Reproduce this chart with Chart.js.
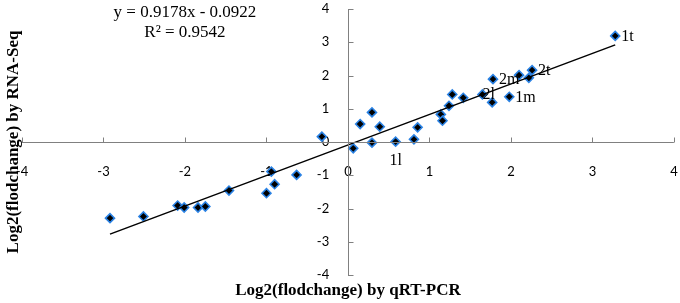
<!DOCTYPE html>
<html>
<head>
<meta charset="utf-8">
<script src="https://cdn.jsdelivr.net/npm/chart.js@4/dist/chart.umd.min.js"></script>
<style>
  html, body { margin: 0; padding: 0; background: #fff; }
  #wrap { width: 680px; height: 303px; }
</style>
</head>
<body>
<div id="wrap"><canvas id="scatterChart" width="680" height="303"></canvas></div>
<script>
// log2 fold change, qRT-PCR (x) vs RNA-Seq (y)
const qpcrValues = [-2.92, -2.51, -2.09, -2.01, -1.84, -1.75, -1.46, -1.00, -0.94, -0.90, -0.63,
    -0.32, 0.065, 0.15, 0.295, 0.295, 0.39, 0.585, 0.81, 0.855, 1.14, 1.16, 1.24, 1.28,
    1.415, 1.65, 1.77, 1.78, 1.98, 2.10, 2.22, 2.26, 3.28];
const rnaseqValues = [-2.29, -2.24, -1.91, -1.97, -1.97, -1.94, -1.46, -1.54, -0.89, -1.27, -0.99,
    0.16, -0.19, 0.54, 0.89, -0.02, 0.46, 0.01, 0.08, 0.44, 0.83, 0.64, 1.09, 1.43,
    1.33, 1.43, 1.19, 1.89, 1.36, 2.01, 1.93, 2.16, 3.19];
const pointLabels = ['', '', '', '', '', '', '', '', '', '', '',
    '', '', '', '', '', '', '1l', '', '', '', '', '', '',
    '', '2l', '', '2m', '1m', '', '', '2t', '1t'];

// trendline ends (y = 0.9178x - 0.0922)
const trendX = [-2.92, 3.28];
const trendY = [-2.77, 2.92];

const equationLines = ['y = 0.9178x - 0.0922', 'R\u00b2 = 0.9542'];
const xTitle = 'Log2(flodchange) by qRT-PCR';
const yTitle = 'Log2(flodchange) by RNA-Seq';

Chart.defaults.color = '#000';

const serif = '"Liberation Serif", "Times New Roman", serif';
const axisColor = '#808080';

// axes cross at 0; tick marks point inward (up / right), Excel style
const axisLines = {
    id: 'axisLines',
    afterDraw(chart) {
        const { ctx, chartArea: area, scales: { x, y } } = chart;
        const x0 = Math.round(x.getPixelForValue(0)) + 0.5;
        const y0 = Math.round(y.getPixelForValue(0)) + 0.5;
        ctx.save();
        ctx.strokeStyle = axisColor;
        ctx.lineWidth = 1;
        ctx.beginPath();
        ctx.moveTo(area.left, y0);
        ctx.lineTo(area.right, y0);
        ctx.moveTo(x0, area.top);
        ctx.lineTo(x0, area.bottom + 1);
        x.ticks.forEach(t => {
            if (t.value === 0) return;
            const px = Math.round(x.getPixelForValue(t.value)) + 0.5;
            ctx.moveTo(px, y0);
            ctx.lineTo(px, y0 - 5);
        });
        y.ticks.forEach(t => {
            if (t.value === 0) return;
            const py = Math.round(y.getPixelForValue(t.value)) + 0.5;
            ctx.moveTo(x0, py);
            ctx.lineTo(x0 + 5, py);
        });
        ctx.stroke();
        ctx.restore();
    }
};

const annotations = {
    id: 'annotations',
    afterDatasetsDraw(chart) {
        const { ctx, chartArea, scales: { x, y } } = chart;
        ctx.save();
        ctx.fillStyle = '#000';

        // point labels
        ctx.font = '16px ' + serif;
        ctx.textBaseline = 'middle';
        pointLabels.forEach((lab, i) => {
            if (!lab) return;
            const px = x.getPixelForValue(qpcrValues[i]);
            const py = y.getPixelForValue(rnaseqValues[i]);
            if (lab === '1l') {
                ctx.textAlign = 'center';
                ctx.fillText(lab, px, py + 19);
            } else if (lab === '2l') {
                ctx.textAlign = 'left';
                ctx.fillText(lab, px, py);
            } else {
                ctx.textAlign = 'left';
                ctx.fillText(lab, px + 6, py + 1);
            }
        });

        // regression equation
        ctx.font = '17px ' + serif;
        ctx.textAlign = 'center';
        const ex = x.getPixelForValue(-2);
        ctx.fillText(equationLines[0], ex, chartArea.top + 4);
        ctx.fillText(equationLines[1], ex, chartArea.top + 24);

        // axis titles
        ctx.font = 'bold 17px ' + serif;
        ctx.fillText(xTitle, x.getPixelForValue(0), chart.height - 12);
        ctx.translate(14, y.getPixelForValue(0));
        ctx.rotate(-Math.PI / 2);
        ctx.fillText(yTitle, 0, 0);
        ctx.restore();
    }
};

new Chart(document.getElementById('scatterChart'), {
    type: 'scatter',
    data: {
        datasets: [{
            label: 'Linear',
            data: trendX.map((v, i) => ({ x: v, y: trendY[i] })),
            showLine: true,
            borderColor: '#000',
            borderWidth: 1.5,
            pointRadius: 0,
            fill: false
        }, {
            label: 'Genes',
            data: qpcrValues.map((v, i) => ({ x: v, y: rnaseqValues[i] })),
            pointStyle: 'rectRot',
            pointRadius: 4.5,
            pointBackgroundColor: '#000',
            pointBorderColor: '#2a82e4',
            pointBorderWidth: 1.6
        }]
    },
    options: {
        responsive: false,
        animation: false,
        devicePixelRatio: 1,
        layout: { padding: { left: 22, right: 6, top: 9, bottom: 28 } },
        plugins: {
            legend: { display: false },
            tooltip: { enabled: false }
        },
        scales: {
            x: {
                type: 'linear',
                position: { y: 0 },
                min: -4,
                max: 4,
                // tick length only used to push the labels down
                grid: { display: false, drawTicks: true, tickLength: 22 },
                border: { display: false },
                ticks: { stepSize: 1, padding: 0, font: { family: 'Lato', size: 13 }, color: '#000' }
            },
            y: {
                type: 'linear',
                // labels sit to the left of the x=0 axis line
                position: { x: -0.23 },
                min: -4,
                max: 4,
                grid: { display: false, drawTicks: false },
                border: { display: false },
                ticks: { stepSize: 1, padding: 0, font: { family: 'Lato', size: 13 }, color: '#000' }
            }
        }
    },
    plugins: [axisLines, annotations]
});
</script>
</body>
</html>
